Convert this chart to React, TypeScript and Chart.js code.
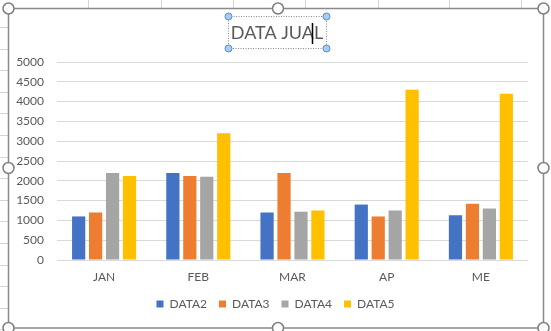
import React, { useEffect, useRef } from "react";
import { Chart, registerables } from "chart.js";

Chart.register(...registerables);

const TITLE = "DATA JUAL";
const CATEGORIES = ["JAN", "FEB", "MAR", "AP", "ME"];
const SERIES_NAMES = ["DATA2", "DATA3", "DATA4", "DATA5"];
const DATA2 = [1100, 2200, 1200, 1400, 1130];
const DATA3 = [1200, 2120, 2200, 1100, 1420];
const DATA4 = [2200, 2100, 1220, 1250, 1300];
const DATA5 = [2120, 3200, 1250, 4300, 4200];
const SERIES_COLORS = ["#4472C4", "#ED7D31", "#A5A5A5", "#FFC000"];
const Y_MIN = 0;
const Y_MAX = 5000;
const Y_STEP = 500;

const FONT = "Lato, 'Open Sans', sans-serif";

const decorPlugin = {
  id: "decor",
  beforeDraw(chart: any) {
    const ctx = chart.ctx;
    const W = chart.width;
    const H = chart.height;
    ctx.save();
    ctx.fillStyle = "#ffffff";
    ctx.fillRect(0, 0, W, H);
    ctx.strokeStyle = "#d4d4d4";
    ctx.lineWidth = 1;
    const vx = [88, 161, 233, 305, 378, 449, 521];
    vx.forEach((x) => {
      ctx.beginPath();
      ctx.moveTo(x + 0.5, 0);
      ctx.lineTo(x + 0.5, 8);
      ctx.stroke();
    });
    for (let y = 27; y < H; y += 21.6) {
      ctx.beginPath();
      ctx.moveTo(0, Math.round(y) + 0.5);
      ctx.lineTo(8, Math.round(y) + 0.5);
      ctx.stroke();
    }
    ctx.strokeStyle = "#8a8a8a";
    ctx.lineWidth = 1.5;
    ctx.strokeRect(8.5, 8.5, 535, 319.5);
    ctx.restore();
  },
  afterDraw(chart: any) {
    const ctx = chart.ctx;
    ctx.save();
    ctx.fillStyle = "#595959";
    ctx.font = "18px " + FONT;
    ctx.textAlign = "center";
    ctx.textBaseline = "middle";
    ctx.fillText(TITLE, 277, 33);
    const bx = 228, by = 16, bw = 98, bh = 32;
    ctx.strokeStyle = "#8a8a8a";
    ctx.lineWidth = 1;
    ctx.setLineDash([1, 1.5]);
    ctx.strokeRect(bx + 0.5, by + 0.5, bw, bh);
    ctx.setLineDash([]);
    ctx.strokeStyle = "#000000";
    ctx.lineWidth = 1.5;
    ctx.beginPath();
    ctx.moveTo(312.5, 23);
    ctx.lineTo(312.5, 44);
    ctx.stroke();
    const small = [
      [bx + 0.5, by + 0.5],
      [bx + bw + 0.5, by + 0.5],
      [bx + 0.5, by + bh + 0.5],
      [bx + bw + 0.5, by + bh + 0.5],
    ];
    small.forEach(([x, y]) => {
      ctx.beginPath();
      ctx.arc(x, y, 3.5, 0, Math.PI * 2);
      ctx.fillStyle = "#a9cdf0";
      ctx.fill();
      ctx.strokeStyle = "#4a90d9";
      ctx.lineWidth = 1;
      ctx.stroke();
    });
    const big = [
      [8.5, 8.5], [278, 8.5], [543.5, 8.5],
      [8.5, 168], [543.5, 168],
      [8.5, 328], [278, 328], [543.5, 328],
    ];
    big.forEach(([x, y]) => {
      ctx.beginPath();
      ctx.arc(x, y, 5.5, 0, Math.PI * 2);
      ctx.fillStyle = "#ffffff";
      ctx.fill();
      ctx.strokeStyle = "#7f7f7f";
      ctx.lineWidth = 1.5;
      ctx.stroke();
    });
    ctx.restore();
  },
};

export default function App() {
  const ref = useRef<HTMLCanvasElement | null>(null);

  useEffect(() => {
    if (!ref.current) return;
    const seriesData = [DATA2, DATA3, DATA4, DATA5];
    const chart = new Chart(ref.current, {
      type: "bar",
      data: {
        labels: CATEGORIES,
        datasets: SERIES_NAMES.map((name, i) => ({
          label: name,
          data: seriesData[i],
          backgroundColor: SERIES_COLORS[i],
          borderWidth: 0,
          categoryPercentage: 0.72,
          barPercentage: 0.78,
        })),
      },
      options: {
        animation: false,
        responsive: false,
        maintainAspectRatio: false,
        devicePixelRatio: 1,
        layout: { padding: { top: 62, right: 0, bottom: 11, left: 0 } },
        plugins: {
          title: { display: false },
          legend: {
            display: true,
            position: "bottom",
            labels: {
              color: "#595959",
              font: { family: FONT, size: 12 },
              boxWidth: 7,
              boxHeight: 7,
              padding: 12,
            },
          },
          tooltip: { enabled: false },
        },
        scales: {
          x: {
            grid: { display: false, drawTicks: false },
            border: { display: false },
            afterFit(scale: any) {
              scale.height = 26;
            },
            ticks: {
              color: "#595959",
              font: { family: FONT, size: 12 },
              padding: 10,
            },
          },
          y: {
            min: Y_MIN,
            max: Y_MAX,
            afterFit(scale: any) {
              scale.width = 57;
            },
            grid: { color: "#d9d9d9", lineWidth: 1, drawTicks: false },
            border: { display: false },
            ticks: {
              stepSize: Y_STEP,
              color: "#595959",
              font: { family: FONT, size: 12 },
              padding: 13,
              callback: (v: any) => String(v),
            },
          },
          yRightSpace: {
            type: "linear",
            position: "right",
            display: true,
            grid: { display: false, drawTicks: false },
            border: { display: false },
            ticks: { display: false },
            afterFit(scale: any) {
              scale.width = 23;
            },
          },
        },
      },
      plugins: [decorPlugin],
    });
    return () => chart.destroy();
  }, []);

  return (
    <div style={{ position: "absolute", left: 0, top: 0, width: 551, height: 331 }}>
      <canvas ref={ref} width={551} height={331} style={{ width: 551, height: 331, display: "block" }} />
    </div>
  );
}
